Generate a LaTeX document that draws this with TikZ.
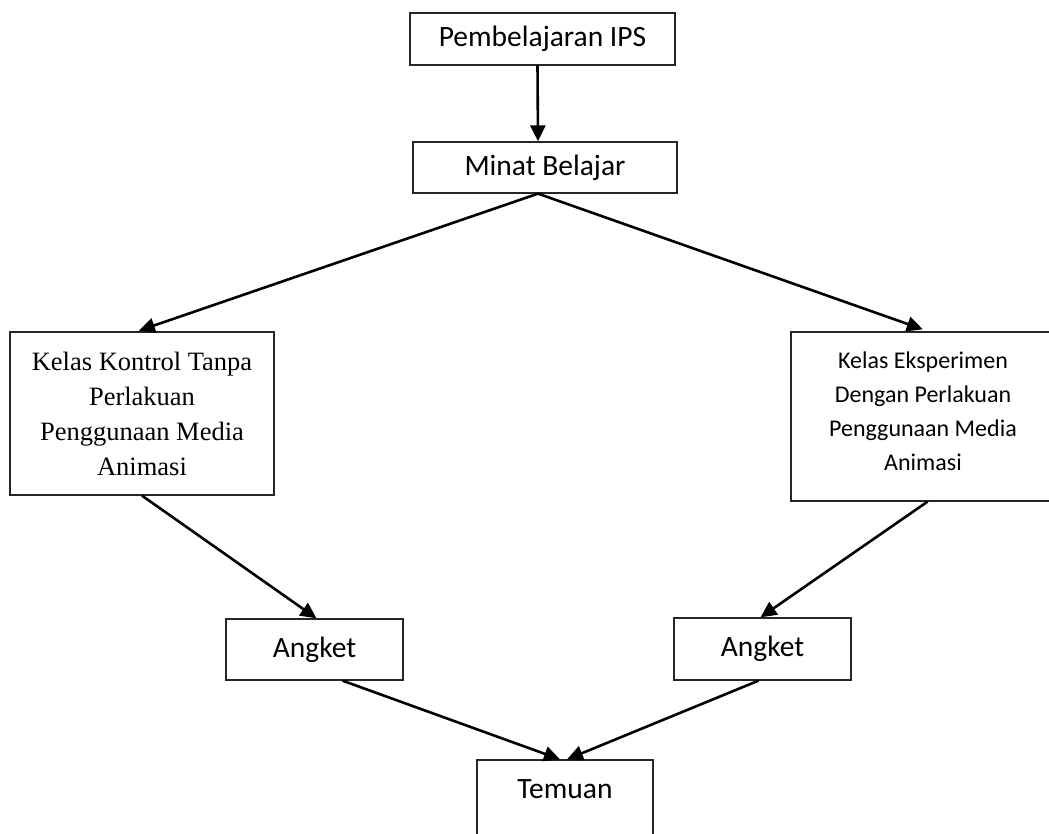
\documentclass[tikz,border=0pt]{standalone}
\usepackage{fontspec}
\setmainfont{Carlito}
\newfontfamily\timesf{Liberation Serif}
\usetikzlibrary{arrows.meta,calc}
\begin{document}
\begin{tikzpicture}[x=1pt,y=-1pt,
  box/.style={draw=black!85,line width=1.3pt,inner sep=0pt,align=center},
  conn/.style={draw=black,line width=2.6pt,-{Triangle[length=16pt,width=15pt]}},
  big/.style={font=\fontsize{29.5}{35}\selectfont}]
\useasboundingbox (0,0) rectangle (1049,834);
\node[box,big,minimum width=265pt,minimum height=52pt] (ips) at (542.5,39) {Pembelajaran IPS};
\node[box,big,minimum width=264pt,minimum height=51pt] (minat) at (545,167.5) {Minat Belajar};
\node[box,minimum width=264pt,minimum height=163pt,font=\timesf\fontsize{26.5}{35}\selectfont] (kontrol) at (142,413.5) {Kelas Kontrol Tanpa\\Perlakuan\\Penggunaan Media\\Animasi};
\node[box,minimum width=269pt,minimum height=169pt] (eks) at (925.5,416.5) {};
\node[font=\fontsize{24}{34}\selectfont,align=center] (ekstext) at (923,411) {Kelas Eksperimen\\Dengan Perlakuan\\Penggunaan Media\\Animasi};
\node[box,big,minimum width=177pt,minimum height=61pt] (angL) at (314.5,649.5) {Angket};
\node[box,big,minimum width=177pt,minimum height=62pt] (angR) at (762.5,649) {Angket};
\node[box,minimum width=176pt,minimum height=120pt] (temuan) at (565,820) {};
\node[big] (temuantext) at (565,789) {Temuan};

\draw[conn] ($(ips.south)+(-5,0)$) -- ($(minat.north)+(-7,0)$);
\draw[conn,shorten >=2pt] ($(minat.south)+(-7,0)$) -- ($(kontrol.north)+(-5,0)$);
\draw[conn,shorten >=6pt] ($(minat.south)+(-7,0)$) -- ($(eks.north)+(3,0)$);
\draw[conn] (kontrol.south) -- ($(angL.north)+(2,0)$);
\draw[conn] ($(eks.south)+(2,0)$) -- ($(angR.north)+(-2,0)$);
\draw[conn] ($(angL.south)+(28,0)$) -- ($(temuan.north)+(-5,0)$);
\draw[conn] ($(angR.south)+(-4,0)$) -- ($(temuan.north)+(2,0)$);
\end{tikzpicture}
\end{document}
